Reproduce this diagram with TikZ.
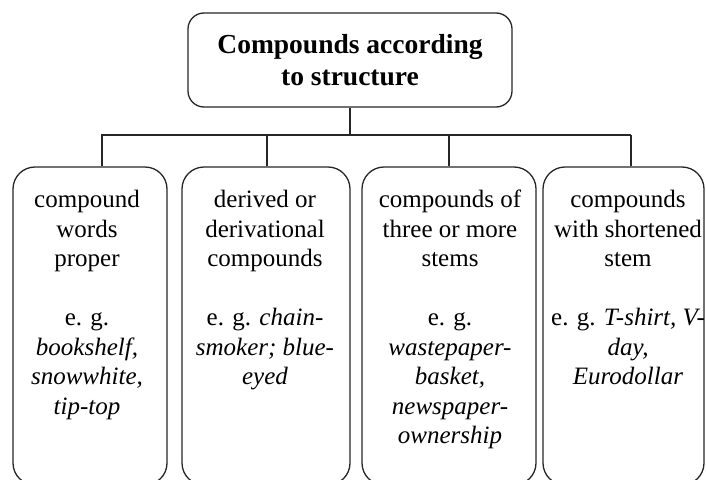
\documentclass[tikz,border=0pt]{standalone}
\usepackage{fontspec}
\setmainfont{Liberation Serif}
\begin{document}
\begin{tikzpicture}[x=1pt,y=-1pt,
  frame/.style={draw=black!85, line width=1.3pt, fill=none, inner sep=0pt},
  topbox/.style={frame, rounded corners=16pt},
  catbox/.style={frame, rounded corners=22pt, minimum height=318pt},
  toptext/.style={anchor=north, inner sep=0pt, align=center,
    font=\fontsize{27.5}{32}\selectfont\bfseries},
  cattext/.style={anchor=north, inner sep=0pt, align=center,
    font=\fontsize{25}{29.5}\selectfont},
  link/.style={draw=black!85, line width=1.3pt}]
\path[use as bounding box, clip] (0,0) rectangle (706,479);
% top box
\node[topbox, minimum width=324pt, minimum height=94pt] (top) at (350,60) {};
\node[toptext] (toptxt) at (350,34) {Compounds according\\to structure};
% category boxes
\node[catbox, minimum width=154pt] (b1) at (90,326) {};
\node[catbox, minimum width=168pt] (b2) at (266,326) {};
\node[catbox, minimum width=174pt] (b3) at (449,326) {};
\node[catbox, minimum width=161pt] (b4) at (623.5,326) {};
% texts
\node[cattext] (t1) at (87,190) {compound\\words\\proper\\[29.5pt]e. g.\\\textit{bookshelf,}\\\textit{snowwhite,}\\\textit{tip-top}};
\node[cattext] (t2) at (265,190) {derived or\\derivational\\compounds\\[29.5pt]e. g. \textit{chain-}\\\textit{smoker; blue-}\\\textit{eyed}};
\node[cattext] (t3) at (450,190) {compounds of\\three or more\\stems\\[29.5pt]e. g.\\\textit{wastepaper-}\\\textit{basket,}\\\textit{newspaper-}\\\textit{ownership}};
\node[cattext] (t4) at (628,190) {compounds\\with shortened\\stem\\[29.5pt]e. g. \textit{T-shirt, V-}\\\textit{day,}\\\textit{Eurodollar}};
% connectors
\coordinate (bL) at (101,135);
\coordinate (bR) at (631,135);
\coordinate (d1) at (102,135);
\coordinate (d2) at (267,135);
\coordinate (d3) at (449,135);
\coordinate (d4) at (631,135);
\draw[link] (top.south) -- (top.south |- bL);
\draw[link] (bL) -- (bR);
\draw[link] (d1) -- (d1 |- b1.north);
\draw[link] (d2) -- (d2 |- b2.north);
\draw[link] (d3) -- (d3 |- b3.north);
\draw[link] (d4) -- (d4 |- b4.north);
\end{tikzpicture}
\end{document}
